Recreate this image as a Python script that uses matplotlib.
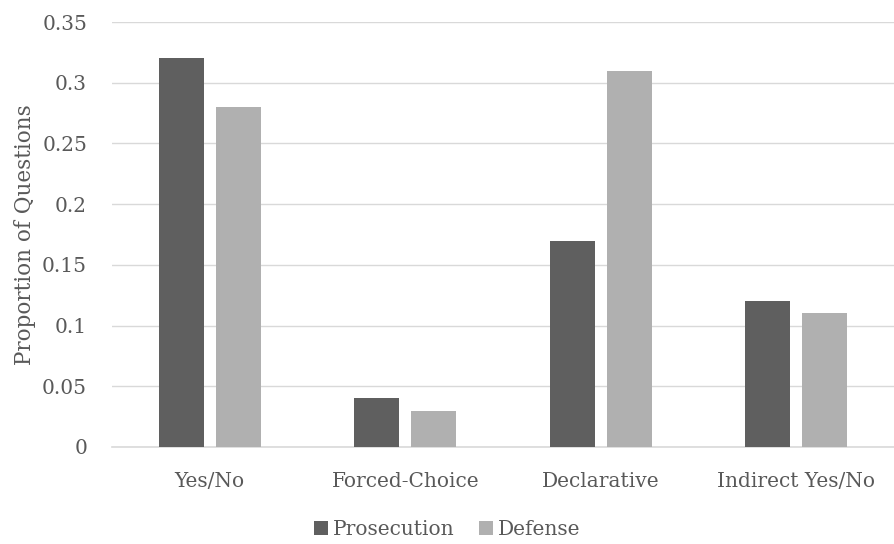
import matplotlib.pyplot as plt
import numpy as np

categories = ["Yes/No", "Forced-Choice", "Declarative", "Indirect Yes/No"]
prosecution = [0.32, 0.04, 0.17, 0.12]
defense = [0.28, 0.03, 0.31, 0.11]

text_color = "#595959"
plt.rcParams["font.family"] = ["DejaVu Serif"]

fig = plt.figure(figsize=(8.94, 5.44), dpi=100)
ax = fig.add_axes([112 / 894, 97 / 544, 782 / 894, 425 / 544])

x = np.arange(len(categories))
width = 0.23
ax.bar(x - 0.145, prosecution, width, color="#5f5f5f", label="Prosecution", zorder=3)
ax.bar(x + 0.145, defense, width, color="#b0b0b0", label="Defense", zorder=3)

ax.set_xlim(-0.5, len(categories) - 0.5)
ax.set_ylim(0, 0.35)
yticks = [0, 0.05, 0.1, 0.15, 0.2, 0.25, 0.3, 0.35]
ax.set_yticks(yticks)
ax.set_yticklabels(["0", "0.05", "0.1", "0.15", "0.2", "0.25", "0.3", "0.35"])
ax.set_xticks(x)
ax.set_xticklabels(categories)
ax.tick_params(axis="both", length=0, colors=text_color, labelsize=14.5)
ax.tick_params(axis="x", pad=18)
ax.tick_params(axis="y", pad=18)

ax.grid(axis="y", color="#d9d9d9", linewidth=1, zorder=0)
for side in ["top", "right", "left"]:
    ax.spines[side].set_visible(False)
ax.spines["bottom"].set_color("#d9d9d9")
ax.spines["bottom"].set_linewidth(1.2)

ax.set_ylabel("Proportion of Questions", color=text_color, fontsize=15.5, labelpad=4)

leg = fig.legend(loc="lower center", bbox_to_anchor=(0.5, -0.025), ncol=2, frameon=False,
                 fontsize=14.5, handlelength=0.7, handleheight=0.7, handletextpad=0.25,
                 columnspacing=1.2)
for t in leg.get_texts():
    t.set_color(text_color)

fig.savefig("out.png", dpi=100)
